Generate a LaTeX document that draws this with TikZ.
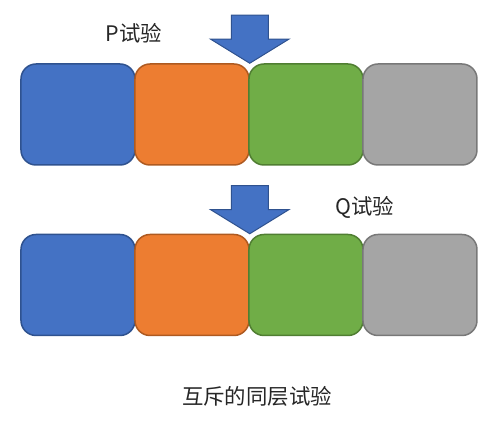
\documentclass[tikz,border=0pt]{standalone}
\usepackage{fontspec}
\newfontfamily\cjk{Noto Sans CJK SC}
\usepackage{tikz}
\usetikzlibrary{matrix}
\definecolor{blueF}{HTML}{4472C4}
\definecolor{blueD}{HTML}{2F528F}
\definecolor{orangeF}{HTML}{ED7D31}
\definecolor{orangeD}{HTML}{AE5A21}
\definecolor{greenF}{HTML}{70AD47}
\definecolor{greenD}{HTML}{507E32}
\definecolor{grayF}{HTML}{A5A5A5}
\definecolor{grayD}{HTML}{787878}
\definecolor{inkT}{HTML}{262626}

\begin{document}
\begin{tikzpicture}[x=0.5pt,y=-0.5pt,font=\cjk\fontsize{10.7}{12}\selectfont,text=inkT,
layer/.style={matrix of nodes,nodes={draw, rounded corners=7.5pt, line width=0.75pt,
    minimum width=57pt, minimum height=50.5pt, anchor=center, inner sep=0pt},
  line width=0.75pt, column sep=-0.75pt, nodes in empty cells,
  column 1/.style={nodes={fill=blueF, draw=blueD}},
  column 2/.style={nodes={fill=orangeF, draw=orangeD}},
  column 3/.style={nodes={fill=greenF, draw=greenD}},
  column 4/.style={nodes={fill=grayF, draw=grayD}}},
pointer/.style={fill=blueF, draw=blueD, line width=0.5pt, line join=miter}]
\useasboundingbox (0,0) rectangle (499,422);
\matrix[layer] (layerP) at (249,114.5) { & & & \\};
\matrix[layer] (layerQ) at (249,285) { & & & \\};
% down arrows pointing at the orange/green border
\coordinate (tipP) at (layerP-1-2.north east);
\coordinate (tipQ) at (layerQ-1-2.north east);
\filldraw[pointer] (tipP) -- ++(-39,-24) -- ++(20.5,0) -- ++(0,-24) -- ++(37,0)
  -- ++(0,24) -- ++(20.5,0) -- cycle;
\filldraw[pointer] (tipQ) -- ++(-39,-24) -- ++(20.5,0) -- ++(0,-24) -- ++(37,0)
  -- ++(0,24) -- ++(20.5,0) -- cycle;
\node (trialP) at (134,33) {P试验};
\node (trialQ) at (365,207) {Q试验};
\node (caption) at (257,396) {互斥的同层试验};
\end{tikzpicture}
\end{document}
